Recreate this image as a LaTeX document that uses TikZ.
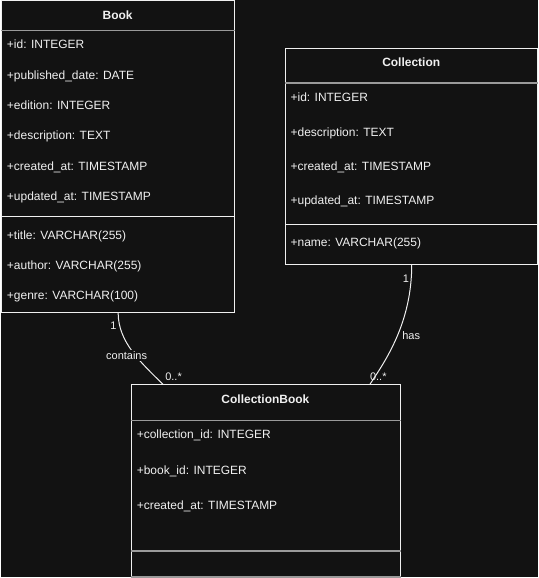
\documentclass[tikz,border=0pt]{standalone}
\usepackage{fontspec}
\setmainfont{Liberation Sans}
\usetikzlibrary{positioning}
\definecolor{bgdark}{HTML}{121212}
\definecolor{fgline}{HTML}{F0F0F0}
\definecolor{hdline}{HTML}{9A9A9A}

\begin{document}
\begin{tikzpicture}[
  x=1pt, y=-1pt,
  cls/.style={draw=fgline, fill=bgdark, line width=1pt, anchor=north west, inner sep=0pt},
  ttl/.style={text=fgline, inner sep=0pt, font=\fontsize{12}{14}\selectfont\bfseries},
  attr/.style={text=fgline, anchor=west, inner sep=0pt, text height=9pt, text depth=2.5pt, font=\fontsize{12}{14}\selectfont},
  lbl/.style={text=fgline, inner sep=1pt, font=\fontsize{11}{13}\selectfont},
  sep/.style={draw=hdline, line width=1.6pt},
  div/.style={draw=fgline, line width=1pt},
  rel/.style={draw=fgline, line width=1pt}
]
\fill[bgdark] (0,0) rectangle (538,578);

\node[cls, minimum width=234pt, minimum height=312pt] (book) at (0,0) {};
\node[ttl] (bookt) at (117,15) {Book};
\draw[sep] ([yshift=-30.5pt]book.north west) -- ([yshift=-30.5pt]book.north east);
\draw[div] ([yshift=-217pt]book.north west) -- ([yshift=-217pt]book.north east);
\foreach \t [count=\i] in {id: INTEGER, published\_date: DATE, edition: INTEGER, description: TEXT, created\_at: TIMESTAMP, updated\_at: TIMESTAMP}
  \node[attr] (book-\i) at (6,{15.5+30.3*\i}) {+\t};
\foreach \t [count=\i] in {title: VARCHAR(255), author: VARCHAR(255), genre: VARCHAR(100)}
  \node[attr] (book-x\i) at (6,{206.5+30*\i}) {+\t};

\node[cls, minimum width=252pt, minimum height=216pt] (coll) at (285,48) {};
\node[ttl] (collt) at (411,62) {Collection};
\draw[sep] ([yshift=-35pt]coll.north west) -- ([yshift=-35pt]coll.north east);
\draw[div] ([yshift=-177pt]coll.north west) -- ([yshift=-177pt]coll.north east);
\foreach \t [count=\i] in {id: INTEGER, description: TEXT, created\_at: TIMESTAMP, updated\_at: TIMESTAMP}
  \node[attr] (coll-\i) at (290,{64+34.5*\i}) {+\t};
\node[attr] (coll-x1) at (290,244) {+name: VARCHAR(255)};

\node[cls, minimum width=270pt, minimum height=192pt] (cb) at (130,385) {};
\node[ttl] (cbt) at (265,400) {CollectionBook};
\draw[sep] ([yshift=-36pt]cb.north west) -- ([yshift=-36pt]cb.north east);
\draw[sep] ([yshift=-167pt]cb.north west) -- ([yshift=-167pt]cb.north east);
\draw[sep] (cb.south west) -- (cb.south east);
\foreach \t [count=\i] in {collection\_id: INTEGER, book\_id: INTEGER, created\_at: TIMESTAMP}
  \node[attr] (cb-\i) at (136,{400.5+35.5*\i}) {+\t};

\draw[rel] (book.south) .. controls +(0,30) and +(-22,-22) .. ([xshift=-103pt]cb.north);
\draw[rel] (coll.south) .. controls +(0,58) and +(16,-24) .. ([xshift=104pt]cb.north);

\node[lbl, anchor=east] (b1) at (117,326) {1};
\node[lbl, fill=bgdark] (bl) at (126,356) {contains};
\node[lbl] (bm) at (173,377) {0..*};
\node[lbl, anchor=east] (c1) at (410,279) {1};
\node[lbl, fill=bgdark] (cl) at (411,336) {has};
\node[lbl] (cm) at (378,377) {0..*};
\end{tikzpicture}
\end{document}
